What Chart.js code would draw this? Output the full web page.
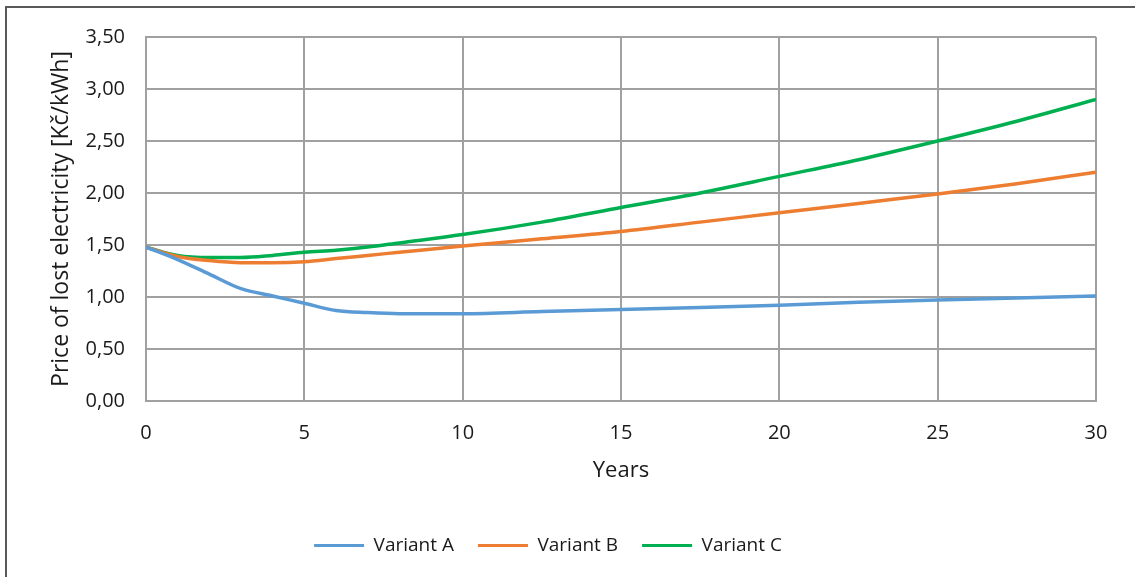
<!DOCTYPE html>
<html>
<head>
<meta charset="utf-8">
<script src="https://cdn.jsdelivr.net/npm/chart.js@4.4.1/dist/chart.umd.min.js"></script>
<style>
  html, body { margin: 0; padding: 0; background: #fff; }
  #wrap { position: relative; width: 1135px; height: 577px; overflow: hidden; }
  #frame {
    position: absolute; left: 5px; top: 6px; width: 1200px; height: 700px;
    border-left: 2px solid #5a5a5a; border-top: 2px solid #5a5a5a;
    pointer-events: none;
  }
  canvas { position: absolute; left: 0; top: 0; }
</style>
</head>
<body>
<div id="wrap">
  <canvas id="chart" width="1135" height="577"></canvas>
  <div id="frame"></div>
</div>
<script>
// ------------------------------------------------------------
//  Data
// ------------------------------------------------------------
var YEARS     = [0, 1, 2, 3, 4, 5, 6, 7, 8, 10, 12.5, 15, 17.5, 20, 22.5, 25, 27.5, 30];
var VARIANT_A = [1.48, 1.36, 1.22, 1.08, 1.01, 0.94, 0.87, 0.85, 0.84, 0.84, 0.86, 0.88, 0.90, 0.92, 0.95, 0.97, 0.99, 1.01];
var VARIANT_B = [1.48, 1.39, 1.35, 1.33, 1.33, 1.34, 1.37, 1.40, 1.43, 1.49, 1.56, 1.63, 1.72, 1.81, 1.90, 1.99, 2.09, 2.20];
var VARIANT_C = [1.48, 1.40, 1.38, 1.38, 1.40, 1.43, 1.45, 1.48, 1.52, 1.60, 1.72, 1.86, 2.00, 2.16, 2.32, 2.50, 2.69, 2.90];

var SERIES_NAMES  = ['Variant A', 'Variant B', 'Variant C'];
var SERIES_COLORS = ['#5b9bd5', '#ed7d31', '#00b050'];

var X_TICKS = ['0', '5', '10', '15', '20', '25', '30'];
var Y_TICKS = ['0,00', '0,50', '1,00', '1,50', '2,00', '2,50', '3,00', '3,50'];

var X_TITLE = 'Years';
var Y_TITLE = 'Price of lost electricity [Kč/kWh]';

// ------------------------------------------------------------
//  Helpers
// ------------------------------------------------------------
var FONT = '"Open Sans", "Noto Sans", sans-serif';
var GRID = '#a0a0a0';
var TEXT = '#1a1a1a';

function points(values) {
  return YEARS.map(function (x, i) { return { x: x, y: values[i] }; });
}

var seriesValues = [VARIANT_A, VARIANT_B, VARIANT_C];

var datasets = SERIES_NAMES.map(function (name, i) {
  return {
    label: name,
    data: points(seriesValues[i]),
    borderColor: SERIES_COLORS[i],
    backgroundColor: SERIES_COLORS[i],
    borderWidth: 3.5,
    pointRadius: 0,
    pointHoverRadius: 0,
    cubicInterpolationMode: 'monotone',
    fill: false
  };
});

// ------------------------------------------------------------
//  Chart
// ------------------------------------------------------------
new Chart(document.getElementById('chart'), {
  type: 'line',
  data: { datasets: datasets },
  options: {
    responsive: false,
    animation: false,
    layout: { padding: { left: 0, top: 37, right: 39, bottom: 12 } },
    plugins: {
      tooltip: { enabled: false },
      legend: {
        position: 'bottom',
        labels: {
          font: { family: FONT, size: 19 },
          color: TEXT,
          boxWidth: 50,
          boxHeight: 3,
          padding: 24,
          generateLabels: function (chart) {
            return chart.data.datasets.map(function (ds, i) {
              return {
                text: ds.label,
                fillStyle: ds.borderColor,
                strokeStyle: ds.borderColor,
                lineWidth: 0,
                fontColor: TEXT,
                datasetIndex: i
              };
            });
          }
        }
      }
    },
    scales: {
      x: {
        type: 'linear',
        min: 0,
        max: 30,
        afterFit: function (scale) { scale.height = 111; },
        ticks: {
          stepSize: 5,
          padding: 20,
          maxRotation: 0,
          font: { family: FONT, size: 20 },
          color: TEXT,
          callback: function (v) { return X_TICKS[Math.round(v / 5)]; }
        },
        grid: { color: GRID, lineWidth: 2, drawTicks: false },
        border: { color: GRID, width: 2 },
        title: {
          display: true,
          text: X_TITLE,
          font: { family: FONT, size: 22 },
          color: TEXT,
          padding: { top: 0, bottom: 28 }
        }
      },
      y: {
        min: 0,
        max: 3.5,
        afterFit: function (scale) { scale.width = 146; },
        ticks: {
          stepSize: 0.5,
          padding: 21,
          font: { family: FONT, size: 20 },
          color: TEXT,
          callback: function (v) { return Y_TICKS[Math.round(v / 0.5)]; }
        },
        grid: { color: GRID, lineWidth: 2, drawTicks: false },
        border: { color: GRID, width: 2 },
        title: {
          display: true,
          text: Y_TITLE,
          font: { family: FONT, size: 23 },
          color: TEXT,
          padding: { top: 48, bottom: 0 }
        }
      }
    }
  }
});
</script>
</body>
</html>
